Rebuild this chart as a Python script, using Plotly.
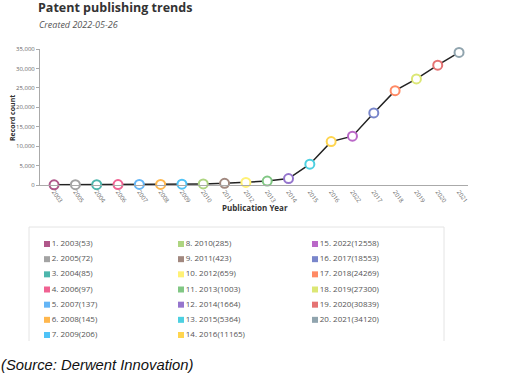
import plotly.graph_objects as go

years = ["2003", "2005", "2004", "2006", "2007", "2008", "2009", "2010", "2011", "2012",
         "2013", "2014", "2015", "2016", "2022", "2017", "2018", "2019", "2020", "2021"]
counts = [53, 72, 85, 97, 137, 145, 206, 285, 423, 659,
          1003, 1664, 5364, 11165, 12558, 18553, 24269, 27300, 30839, 34120]
colors = ["#b0578a", "#a3a3a3", "#4db6ac", "#f06292", "#64b5f6", "#ffb74d", "#4fc3f7",
          "#aed581", "#a1887f", "#fff176", "#81c784", "#9575cd", "#4dd0e1", "#ffd54f",
          "#ba68c8", "#7986cb", "#ff8a65", "#dce775", "#e57373", "#90a4ae"]
y_ticks = [0, 5000, 10000, 15000, 20000, 25000, 30000, 35000]

W, H = 514, 376
ML, MR, MT, MB = 40, 46, 49, 31
PW, PH = W - ML - MR, H - MT - MB


def px(x):
    return (x - ML) / PW


def py(y):
    return (H - MB - y) / PH


fig = go.Figure()
fig.add_trace(go.Scatter(
    x=years, y=counts, mode="lines+markers",
    line=dict(color="#222222", width=1.5),
    marker=dict(size=9, color="white", line=dict(color=colors, width=2)),
    cliponaxis=False, showlegend=False, hoverinfo="x+y"))

# legend built from data (7 rows per column)
n_rows = 7
leg_col = [i // n_rows for i in range(len(years))]
leg_row = [i % n_rows for i in range(len(years))]
leg_text = [f"{i + 1}. {y}({c})" for i, (y, c) in enumerate(zip(years, counts))]
fig.add_trace(go.Scatter(
    x=leg_col, y=leg_row, mode="markers+text", text=leg_text,
    textposition="middle right", textfont=dict(size=8, color="#555555", family="Open Sans"),
    marker=dict(symbol="square", size=6, color=colors),
    xaxis="x2", yaxis="y2", showlegend=False, hoverinfo="skip", cliponaxis=False))

main_bottom = py(185)
fig.update_layout(
    width=W, height=H, margin=dict(l=ML, r=MR, t=MT, b=MB),
    paper_bgcolor="white", plot_bgcolor="white",
    font=dict(family="Open Sans", color="#555555"),
    xaxis=dict(type="category", range=[-0.66, 19.42], showgrid=False, zeroline=False,
               showline=True, linecolor="#aaaaaa", linewidth=1, ticks="",
               tickangle=55, tickfont=dict(size=6, color="#666666"),
               domain=[0, 1], anchor="y"),
    yaxis=dict(range=[0, 35000], tickvals=y_ticks, tickformat=",", showgrid=False,
               zeroline=False, showline=True, linecolor="#aaaaaa", linewidth=1,
               ticks="outside", ticklen=3, tickcolor="#aaaaaa",
               tickfont=dict(size=6, color="#666666"),
               domain=[main_bottom, 1], anchor="x"),
    xaxis2=dict(range=[-(47 - ML) / 134, (W - MR - 47) / 134], visible=False,
                domain=[0, 1], anchor="y2"),
    yaxis2=dict(range=[6 + (345 - 335) / 15.15, -(244 - 227) / 15.15], visible=False,
                domain=[0, py(227)], anchor="x2"),
)

# legend frame: left, top and right sides
x0, x1, y0, y1 = px(29), px(444), py(341), py(227)
fig.add_shape(type="path", xref="paper", yref="paper",
              path=f"M {x0} {y0} L {x0} {y1} L {x1} {y1} L {x1} {y0}",
              line=dict(color="#e4e4e4", width=1))

ann = [
    dict(text="<b>Patent publishing trends</b>", x=px(36), y=py(7),
         font=dict(size=12.5, color="#333333", family="Open Sans")),
    dict(text="<i>Created 2022-05-26</i>", x=px(37), y=py(24),
         font=dict(size=9, color="#555555", family="Open Sans")),
    dict(text="<b>Publication Year</b>", x=px(255), y=py(207), xanchor="center",
         font=dict(size=8, color="#333333", family="Open Sans")),
    dict(text="<b>Record count</b>", x=px(12), y=py(118), xanchor="center", textangle=-90,
         font=dict(size=7, color="#333333", family="Open Sans")),
    dict(text="<i>(Source: Derwent Innovation)</i>", x=px(-1), y=py(365),
         font=dict(size=14.8, color="#111111", family="Liberation Sans")),
]
for a in ann:
    a.setdefault("xanchor", "left")
    fig.add_annotation(xref="paper", yref="paper", yanchor="middle", showarrow=False, **a)

fig.write_html("out.html", config={"displayModeBar": False},
               post_script="document.body.style.margin='0px';")
